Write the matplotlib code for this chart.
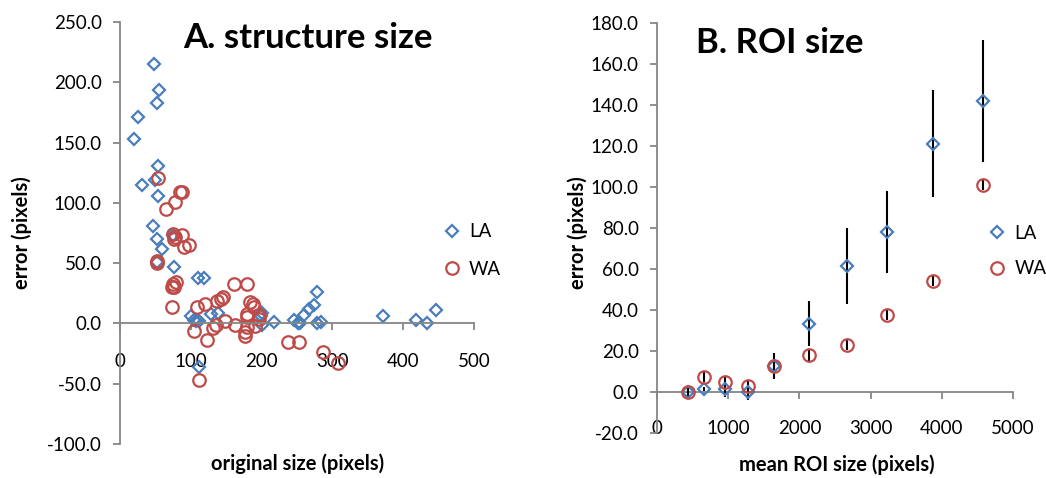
import matplotlib.pyplot as plt
import numpy as np

plt.rcParams["font.family"] = ["Lato", "DejaVu Sans"]
plt.rcParams["axes.unicode_minus"] = False

# ---- panel A data: original size vs error ----
la_size = [48, 55, 53, 25, 20, 54, 31, 50, 54, 46, 53, 59, 52, 76, 75, 110, 119,
           101, 104, 108, 112, 128, 139, 112, 201, 199, 201, 218, 246, 251, 255,
           260, 267, 274, 279, 278, 284, 372, 418, 434, 446]
la_err = [215, 194, 183, 171, 153, 131, 115, 119, 106, 81, 70, 62, 51, 47, 73, 38, 38,
          6, 3, 2, 2, 8, 9, -36, 9, 6, -1, 1, 3, 0, 0,
          7, 12, 15, 26, 0, 1, 6, 3, 0, 11]

wa_size = [54, 85, 88, 78, 65, 75, 78, 87, 77, 90, 98, 53, 52, 75, 79, 77, 74,
           74, 109, 120, 137, 142, 146, 161, 179, 184, 188, 190, 180, 179, 180,
           197, 197, 191, 177, 177, 163, 149, 135, 132, 105, 123, 112, 238, 253,
           287, 308]
wa_err = [121, 109, 109, 101, 95, 74, 72, 73, 70, 63, 65, 52, 50, 33, 34, 30, 30,
          14, 14, 16, 19, 20, 22, 33, 33, 18, 16, 14, 8, 5, -3,
          7, 4, -2, -7, -10, -1, 2, -1, -4, -6, -14, -47, -15, -15,
          -24, -33]

# ---- panel B data: mean ROI size vs error ----
roi_size = [440, 660, 955, 1283, 1643, 2140, 2664, 3226, 3872, 4574]
roi_la = [0, 1.8, 1.5, 0.3, 13, 33.4, 61.5, 78, 121, 142]
roi_la_sd = [1, 1, 4, 4, 6.3, 11, 18.5, 20, 26, 29.6]
roi_wa = [0, 7.3, 5.2, 3, 13, 18, 23, 37.6, 54.3, 101]
roi_wa_sd = [2.5, 2.5, 2.5, 2.5, 2.5, 2.5, 2.5, 2.5, 2.5, 2.5]

blue = "#4A7EBB"
red = "#BE4B48"
grey = "#868686"

fig = plt.figure(figsize=(10.46, 4.78), dpi=100)
ax1 = fig.add_axes([0.1147, 0.0711, 0.3384, 0.8828])
ax2 = fig.add_axes([0.6281, 0.0933, 0.3403, 0.8592])


def style_axes(ax, ymin, ymax, ystep, xmax, xstep, pad):
    ax.set_ylim(ymin, ymax)
    ax.set_xlim(0, xmax)
    ax.set_yticks(np.arange(ymin, ymax + 0.1, ystep))
    ax.set_xticks(np.arange(0, xmax + 1, xstep))
    ax.yaxis.set_major_formatter(plt.FormatStrFormatter("%.1f"))
    ax.spines["top"].set_visible(False)
    ax.spines["right"].set_visible(False)
    ax.spines["bottom"].set_position(("data", 0))
    for s in ("left", "bottom"):
        ax.spines[s].set_color(grey)
        ax.spines[s].set_linewidth(1.3)
    ax.tick_params(axis="both", colors=grey, labelcolor="black",
                   labelsize=13.5, length=5, width=1.3)
    ax.tick_params(axis="x", pad=pad)
    ax.tick_params(axis="y", pad=8)
    ax.patch.set_alpha(0)


# ---- panel A ----
ax1.plot(la_size, la_err, "D", ms=6.5, mfc="none", mec=blue, mew=1.6,
         label="LA", clip_on=False)
ax1.plot(wa_size, wa_err, "o", ms=9, mfc="none", mec=red, mew=1.6,
         label="WA", clip_on=False)
style_axes(ax1, -100, 250, 50, 500, 100, 16)
ax1.text(0.531, 0.962, "A. structure size", transform=ax1.transAxes,
         ha="center", va="center", fontsize=25, fontweight="bold")
ax1.text(0.503, -0.047, "original size (pixels)", transform=ax1.transAxes,
         ha="center", va="center", fontsize=14.5, fontweight="bold")
ax1.text(-0.277, 0.5, "error (pixels)", transform=ax1.transAxes, rotation=90,
         ha="center", va="center", fontsize=14.5, fontweight="bold")
ax1.legend(loc="center left", bbox_to_anchor=(0.87, 0.458), frameon=False,
           fontsize=13.5, handlelength=0.8, handletextpad=0.5, labelspacing=1.1)

# ---- panel B ----
ax2.errorbar(roi_size, roi_la, yerr=roi_la_sd, fmt="none", ecolor="black",
             elinewidth=1.5, capsize=0, zorder=3)
ax2.errorbar(roi_size, roi_wa, yerr=roi_wa_sd, fmt="none", ecolor="black",
             elinewidth=1.5, capsize=0, zorder=3)
ax2.plot(roi_size, roi_la, "D", ms=6.5, mfc="none", mec=blue, mew=1.6,
         label="LA", zorder=4, clip_on=False)
ax2.plot(roi_size, roi_wa, "o", ms=9, mfc="none", mec=red, mew=1.6,
         label="WA", zorder=4, clip_on=False)
style_axes(ax2, -20, 180, 20, 5000, 1000, 15)
ax2.text(0.345, 0.951, "B. ROI size", transform=ax2.transAxes,
         ha="center", va="center", fontsize=25, fontweight="bold")
ax2.text(0.505, -0.077, "mean ROI size (pixels)", transform=ax2.transAxes,
         ha="center", va="center", fontsize=14.5, fontweight="bold")
ax2.text(-0.222, 0.49, "error (pixels)", transform=ax2.transAxes, rotation=90,
         ha="center", va="center", fontsize=14.5, fontweight="bold")
ax2.legend(loc="center left", bbox_to_anchor=(0.888, 0.444), frameon=False,
           fontsize=13.5, handlelength=0.8, handletextpad=0.5, labelspacing=1.0)

fig.savefig("out.png", dpi=100)
